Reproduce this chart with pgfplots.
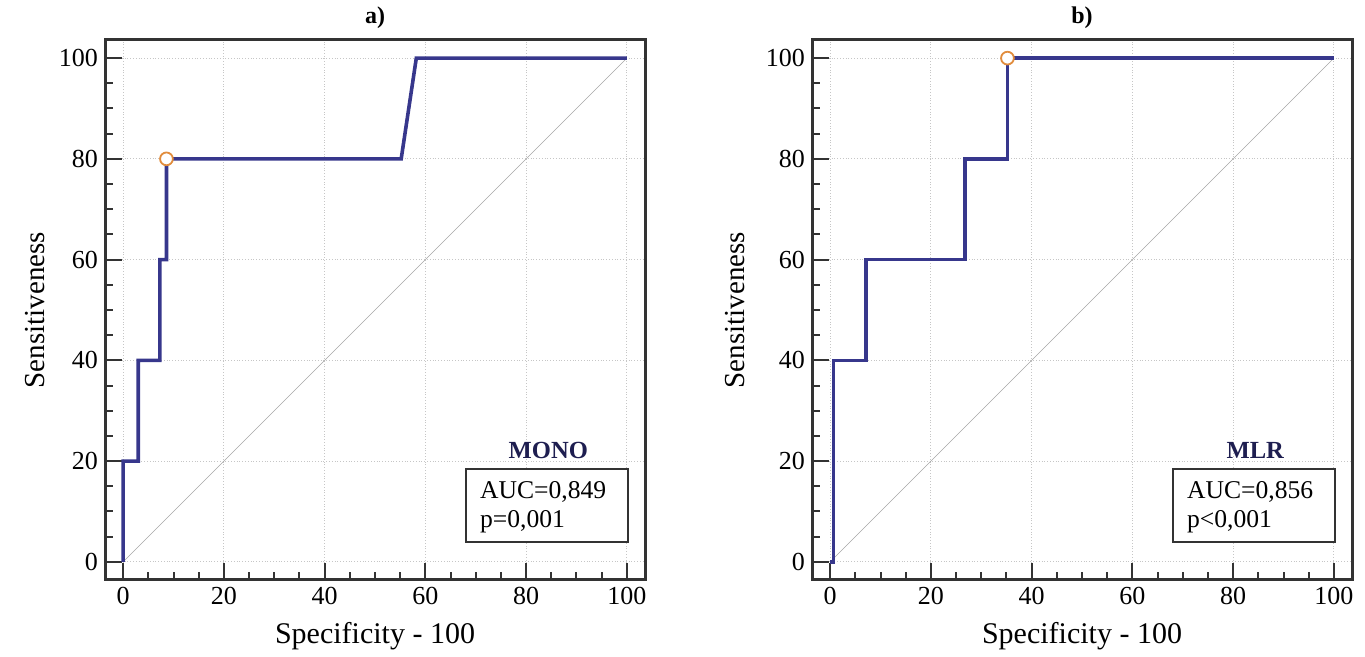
\documentclass[border=0pt]{standalone}
\usepackage{fontspec}
\setmainfont{Liberation Serif}
\usepackage{pgfplots}
\pgfplotsset{compat=1.18}

\definecolor{axgray}{RGB}{51,51,51}
\definecolor{rocblue}{RGB}{55,55,140}
\definecolor{labnavy}{RGB}{30,30,80}
\definecolor{markor}{RGB}{225,140,60}

\pgfplotsset{
  rocax/.style={
    scale only axis, width=270pt, height=270pt,
    anchor=south west,
    xmin=-3.6, xmax=103.6, ymin=-3.6, ymax=103.6,
    xtick={0,20,...,100}, ytick={0,20,...,100},
    minor x tick num=3, minor y tick num=3,
    tick pos=left, tick align=inside,
    major tick length=8.5pt, minor tick length=4pt,
    tick style={line width=1pt, color=axgray},
    axis line style={line width=1.5pt, draw=axgray},
    grid=major,
    major grid style={densely dotted, gray!45, line width=0.4pt},
    ticklabel style={font=\fontsize{13}{15}\selectfont},
    /pgf/number format/assume math mode=true,
  },
  roc/.style={rocblue, line width=1.8pt, line join=miter},
  diag/.style={gray!70, line width=0.3pt},
  cut/.style={only marks, mark=*, mark size=3.2pt,
    mark options={draw=markor, fill=white, line width=0.9pt}},
}

\newcommand{\statbox}[3]{%
  \draw[axgray, line width=1pt, fill=white] (axis cs:68,4) rectangle (axis cs:100.2,18.4);
  \node[anchor=base, inner sep=0, text=labnavy, font=\fontsize{12.3}{14}\selectfont\bfseries]
    at (axis cs:84.4,20.6) {#1};
  \node[anchor=base west, inner sep=0, font=\fontsize{12.8}{14}\selectfont]
    at (axis cs:70.8,12.5) {#2};
  \node[anchor=base west, inner sep=0, font=\fontsize{12.8}{14}\selectfont]
    at (axis cs:70.8,6.9) {#3};
}

\begin{document}
\begin{tikzpicture}
\useasboundingbox (0,0) rectangle (682.5pt,328.5pt);

% a) MONO
\begin{axis}[rocax, at={(52.5pt,38.5pt)}]
  \addplot[diag] coordinates {(0,0) (100,100)};
  \addplot[roc] coordinates {
    (0,0) (0,20) (3,20) (3,40) (7.3,40) (7.3,60) (8.6,60) (8.6,80)
    (55.2,80) (58.2,100) (100,100)};
  \addplot[cut] coordinates {(8.6,80)};
  \statbox{MONO}{AUC=0,849}{p=0,001}
\end{axis}

% b) MLR
\begin{axis}[rocax, at={(406pt,38.5pt)}]
  \addplot[diag] coordinates {(0,0) (100,100)};
  \addplot[roc] coordinates {
    (0,0) (0.7,0) (0.7,40) (7.1,40) (7.1,60) (26.8,60) (26.8,80)
    (35.2,80) (35.2,100) (100,100)};
  \addplot[cut] coordinates {(35.2,100)};
  \statbox{MLR}{AUC=0,856}{p<0,001}
\end{axis}

% titles and axis labels
\begin{scope}[every node/.style={inner sep=0}]
  \node[font=\fontsize{12}{14}\selectfont\bfseries] at (187.5pt,319.5pt) {a)};
  \node[font=\fontsize{12}{14}\selectfont\bfseries] at (541pt,319.5pt) {b)};
  \node[font=\fontsize{15}{17}\selectfont] at (187.5pt,10.5pt) {Specificity - 100};
  \node[font=\fontsize{15}{17}\selectfont] at (541pt,10.5pt) {Specificity - 100};
  \node[rotate=90, font=\fontsize{14.5}{17}\selectfont] at (17.5pt,173.5pt) {Sensitiveness};
  \node[rotate=90, font=\fontsize{14.5}{17}\selectfont] at (367.5pt,173.5pt) {Sensitiveness};
\end{scope}
\end{tikzpicture}
\end{document}
